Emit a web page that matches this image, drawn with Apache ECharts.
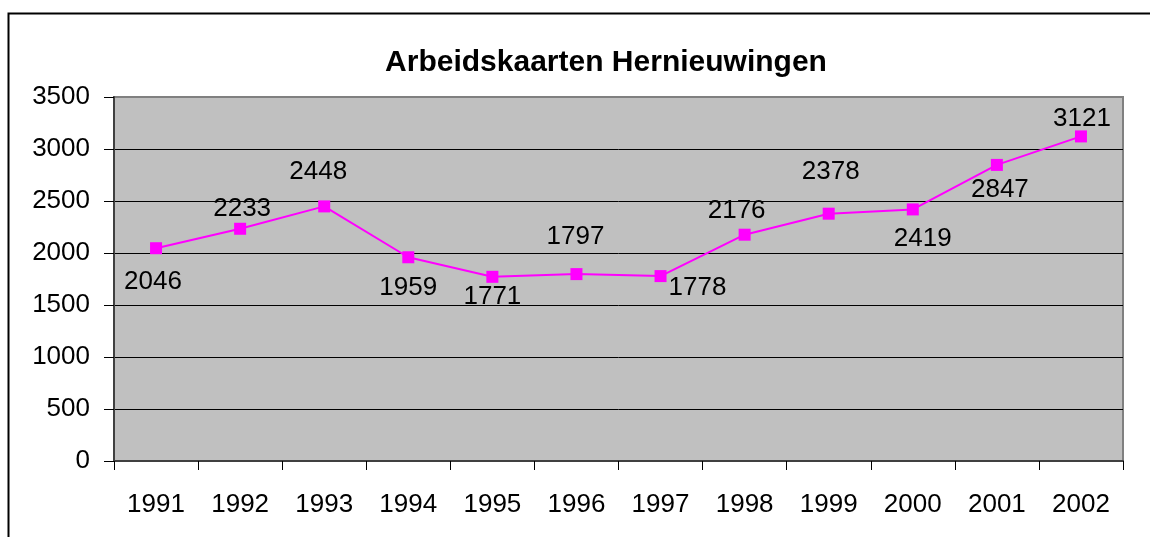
<!DOCTYPE html>
<html>
<head>
<meta charset="utf-8">
<script src="https://cdn.jsdelivr.net/npm/echarts@6/dist/echarts.min.js"></script>
<style>
  html, body { margin: 0; padding: 0; background: #fff; }
  #chart { width: 1150px; height: 537px; }
</style>
</head>
<body>
<div id="chart"></div>
<script>
// data
var years = ['1991','1992','1993','1994','1995','1996','1997','1998','1999','2000','2001','2002'];
var renewals = [2046, 2233, 2448, 1959, 1771, 1797, 1778, 2176, 2378, 2419, 2847, 3121];
var yTicks = [0, 500, 1000, 1500, 2000, 2500, 3000, 3500];

// where excel put each value label, relative to its marker
var labelOffsets = [[-3,34],[2,-20],[-6,-35],[0,31],[0,20],[-1,-37],[37,12],[-8,-24],[2,-42],[10,29],[3,25],[1,-18]];

var font = "'Liberation Sans', Arial, sans-serif";

var seriesData = [];
for (var i = 0; i < renewals.length; i++) {
    seriesData.push({
        value: renewals[i],
        label: { offset: labelOffsets[i] }
    });
}

// split lines black, top one is the grey plot border
var splitColors = [];
for (var j = 0; j < yTicks.length; j++) {
    splitColors.push(j == yTicks.length - 1 ? '#808080' : '#000');
}

var chart = echarts.init(document.getElementById('chart'));
chart.setOption({
    animation: false,
    textStyle: { fontFamily: font },
    title: {
        text: 'Arbeidskaarten Hernieuwingen',
        left: 601,
        top: 43,
        textAlign: 'center',
        textStyle: { fontFamily: font, fontSize: 30, fontWeight: 'bold', color: '#000' }
    },
    graphic: [{
        type: 'rect',
        shape: { x: 8.5, y: 13.5, width: 1300, height: 700 },
        style: { fill: 'none', stroke: '#000', lineWidth: 2 },
        silent: true
    }],
    grid: {
        left: 114,
        top: 97,
        width: 1009,
        height: 364,
        show: true,
        backgroundColor: '#C0C0C0',
        borderColor: '#808080',
        borderWidth: 2
    },
    xAxis: {
        type: 'category',
        data: years,
        boundaryGap: true,
        axisLine: { lineStyle: { color: '#404040', width: 2 } },
        axisTick: { show: true, inside: false, length: 9, lineStyle: { color: '#000', width: 1 } },
        axisLabel: { color: '#000', fontSize: 26, margin: 31, fontFamily: font },
        splitLine: { show: false }
    },
    yAxis: {
        type: 'value',
        min: 0,
        max: 3500,
        interval: 500,
        axisLine: { show: true, lineStyle: { color: '#404040', width: 2 } },
        axisTick: { show: true, length: 10, lineStyle: { color: '#000', width: 1 } },
        axisLabel: {
            color: '#000', fontSize: 26, margin: 24, fontFamily: font,
            formatter: function (v) { return String(v); }
        },
        splitLine: { show: true, lineStyle: { color: splitColors, width: 1 } }
    },
    series: [{
        type: 'line',
        data: seriesData,
        symbol: 'rect',
        symbolSize: 12,
        lineStyle: { color: '#FF00FF', width: 2 },
        itemStyle: { color: '#FF00FF' },
        label: {
            show: true,
            position: 'inside',
            align: 'center',
            verticalAlign: 'middle',
            color: '#000',
            fontSize: 26,
            fontFamily: font
        }
    }]
});
</script>
</body>
</html>
